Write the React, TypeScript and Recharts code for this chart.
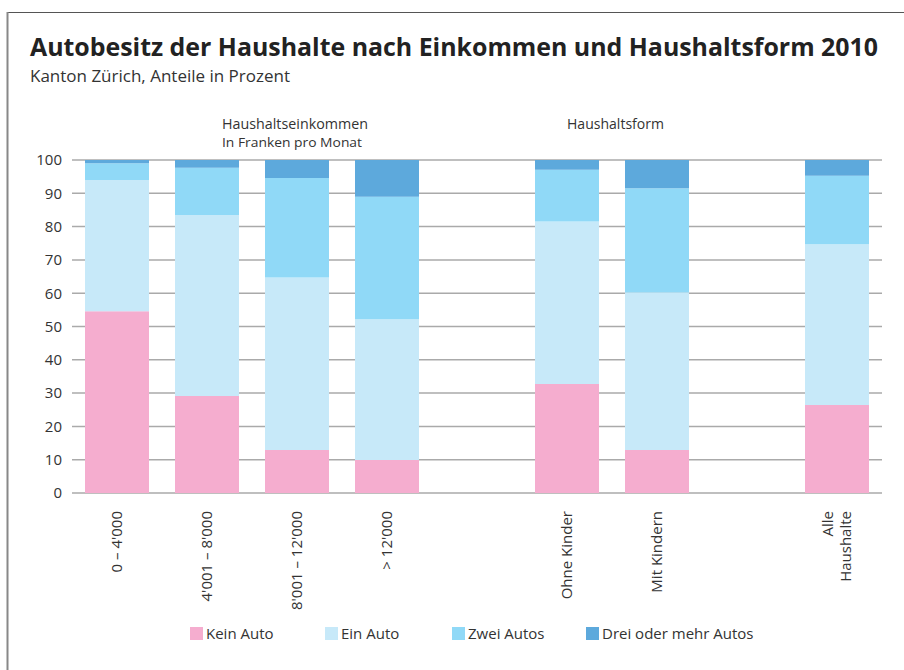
import { BarChart, Bar, XAxis, YAxis, CartesianGrid } from 'recharts';

// empty slots separate the groups
const categories = ["0 – 4'000", "4'001 – 8'000", "8'001 – 12'000", "> 12'000", '', 'Ohne Kinder', 'Mit Kindern', ' ', 'Alle\nHaushalte'];
const keinAuto = [54.6, 29.1, 12.9, 9.9, null, 32.7, 12.9, null, 26.4];
const einAuto = [39.4, 54.4, 51.8, 42.3, null, 48.8, 47.3, null, 48.3];
const zweiAutos = [5.0, 14.2, 29.9, 36.8, null, 15.6, 31.3, null, 20.6];
const dreiAutos = [1.0, 2.3, 5.4, 11.0, null, 2.9, 8.5, null, 4.7];
const yTicks = [0, 10, 20, 30, 40, 50, 60, 70, 80, 90, 100];

const series = [
  { key: 'kein', name: 'Kein Auto', color: '#F5ADCF', values: keinAuto },
  { key: 'ein', name: 'Ein Auto', color: '#C7E9F9', values: einAuto },
  { key: 'zwei', name: 'Zwei Autos', color: '#90D9F7', values: zweiAutos },
  { key: 'drei', name: 'Drei oder mehr Autos', color: '#5DA9DC', values: dreiAutos },
];

const data = categories.map((cat, i) => {
  const row: Record<string, string | number | null> = { cat };
  series.forEach((s) => (row[s.key] = s.values[i]));
  return row;
});

const FONT = '"Open Sans", "DejaVu Sans", sans-serif';

const XTick = (props: any) => {
  const { x, y, payload } = props;
  const lines = String(payload.value).split('\n');
  const offsets = lines.length === 1 ? [5] : [-4, 14];
  return (
    <g transform={`translate(${x},${y + 10}) rotate(-90)`}>
      {lines.map((l, i) => (
        <text key={i} x={0} y={offsets[i]} textAnchor="end" fontSize={15} fill="#333" fontFamily={FONT}>
          {l}
        </text>
      ))}
    </g>
  );
};

const legendX = [190, 325, 452, 586];

export default function App() {
  return (
    <div style={{ position: 'absolute', left: 0, top: 0, width: 904, height: 670, background: '#fff' }}>
      <BarChart
        width={904}
        height={670}
        data={data}
        margin={{ top: 160, right: 22, bottom: 77, left: 12 }}
        barSize={64}
      >
        <CartesianGrid vertical={false} stroke="#aaa" strokeWidth={1.5} />
        <XAxis
          dataKey="cat"
          interval={0}
          axisLine={false}
          tickLine={false}
          height={100}
          tick={<XTick />}
        />
        <YAxis
          domain={[0, 100]}
          ticks={yTicks}
          width={60}
          axisLine={false}
          tickLine={false}
          tickMargin={4}
          tick={{ fontSize: 15, fill: '#333', fontFamily: FONT }}
        />
        {series.map((s) => (
          <Bar key={s.key} dataKey={s.key} name={s.name} stackId="a" fill={s.color} isAnimationActive={false} />
        ))}
      </BarChart>
      <svg width={904} height={670} style={{ position: 'absolute', left: 0, top: 0, pointerEvents: 'none' }}>
        <line x1={7} y1={12.5} x2={904} y2={12.5} stroke="#555" strokeWidth={1} />
        <line x1={7.5} y1={12} x2={7.5} y2={670} stroke="#888" strokeWidth={2} />
        <text x={30} y={56} fontSize={25} fontWeight="bold" fill="#222" fontFamily={FONT} textLength={848} lengthAdjust="spacingAndGlyphs">
          Autobesitz der Haushalte nach Einkommen und Haushaltsform 2010
        </text>
        <text x={30} y={82} fontSize={16} fill="#333" fontFamily={FONT} textLength={260} lengthAdjust="spacingAndGlyphs">
          Kanton Zürich, Anteile in Prozent
        </text>
        <text x={222} y={129} fontSize={15} fill="#333" fontFamily={FONT} textLength={146} lengthAdjust="spacingAndGlyphs">
          Haushaltseinkommen
        </text>
        <text x={222} y={147} fontSize={12.5} fill="#333" fontFamily={FONT} textLength={140} lengthAdjust="spacingAndGlyphs">
          In Franken pro Monat
        </text>
        <text x={567} y={129} fontSize={15} fill="#333" fontFamily={FONT} textLength={97} lengthAdjust="spacingAndGlyphs">
          Haushaltsform
        </text>
        {series.map((s, i) => (
          <g key={s.key}>
            <rect x={legendX[i]} y={627} width={13} height={13} fill={s.color} />
            <text x={legendX[i] + 16} y={639} fontSize={15} fill="#333" fontFamily={FONT}>
              {s.name}
            </text>
          </g>
        ))}
      </svg>
    </div>
  );
}
